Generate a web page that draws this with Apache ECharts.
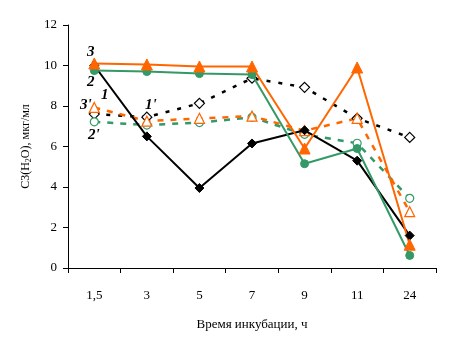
<!DOCTYPE html>
<html><head><meta charset="utf-8">
<script src="https://cdn.jsdelivr.net/npm/echarts@6/dist/echarts.min.js"></script>
<style>html,body{margin:0;padding:0;background:#fff}#c{width:452px;height:350px}</style>
</head><body><div id="c"></div>
<script>
var categories = ['1,5','3','5','7','9','11','24'];
var s1  = [10.0, 6.5, 3.95, 6.15, 6.8, 5.3, 1.6];
var s2  = [9.75, 9.7, 9.6, 9.55, 5.15, 5.9, 0.62];
var s3  = [10.1, 10.05, 9.95, 9.95, 5.9, 9.9, 1.15];
var s1p = [7.6, 7.45, 8.13, 9.37, 8.92, 7.39, 6.45];
var s2p = [7.22, 7.06, 7.18, 7.44, 6.6, 6.16, 3.44];
var s3p = [7.93, 7.25, 7.39, 7.5, 6.78, 7.39, 2.78];
var yTicks = [0,2,4,6,8,10,12];

var F = '"Liberation Serif","Times New Roman",serif';
var BLACK = '#000000', GREEN = '#339966', ORANGE = '#FF6600';
var chart = echarts.init(document.getElementById('c'));

function solid(name, data, color, symbol, size){
  return {name:name,type:'line',data:data,symbol:symbol,symbolSize:size,showAllSymbol:true,
    lineStyle:{color:color,width:2,type:'solid'},itemStyle:{color:color,borderColor:color,borderWidth:1},
    z:3,animation:false};
}
function dashed(name, data, color, symbol, size, dash){
  return {name:name,type:'line',data:data,symbol:symbol,symbolSize:size,showAllSymbol:true,
    lineStyle:{color:color,width:2.5,type:dash},itemStyle:{color:'#fff',borderColor:color,borderWidth:1.2},
    z:2,animation:false};
}
function lab(t,x,y){
  return {type:'text',left:x,top:y,style:{text:t,font:'italic bold 15px '+F,fill:'#000'}};
}

chart.setOption({
  backgroundColor:'#fff',
  grid:{left:68,right:16,top:25,bottom:82},
  xAxis:{type:'category',data:categories,boundaryGap:true,
    axisLine:{lineStyle:{color:'#000',width:1}},
    axisTick:{show:true,alignWithLabel:false,length:5,lineStyle:{color:'#000'}},
    axisLabel:{color:'#000',fontFamily:F,fontSize:13,margin:21},
    name:'Время инкубации, ч',nameLocation:'middle',nameGap:50,
    nameTextStyle:{color:'#000',fontFamily:F,fontSize:13}},
  yAxis:{type:'value',min:0,max:12,interval:2,
    axisLine:{show:true,lineStyle:{color:'#000',width:1}},
    axisTick:{show:true,length:5,lineStyle:{color:'#000'}},
    splitLine:{show:false},
    axisLabel:{color:'#000',fontFamily:F,fontSize:13,margin:11,
      formatter:function(v){return yTicks.indexOf(v)>=0?String(v):'';}},
    name:'{a|C3(H}{s|2}{a|O), мкг/мл}',nameLocation:'middle',nameGap:34,nameRotate:90,
    nameTextStyle:{rich:{a:{color:'#000',fontFamily:F,fontSize:12},s:{color:'#000',fontFamily:F,fontSize:8,padding:[6,0,0,0]}}}},
  series:[
    dashed("1'", s1p, BLACK, 'diamond', 10, [4,8]),
    dashed("2'", s2p, GREEN, 'circle', 8, [6,7]),
    dashed("3'", s3p, ORANGE, 'triangle', 10, [6,7]),
    solid('1', s1, BLACK, 'diamond', 9),
    solid('2', s2, GREEN, 'circle', 8),
    solid('3', s3, ORANGE, 'triangle', 11)
  ],
  graphic:[
    lab('3',87,45), lab('2',87,75), lab('1',101,88),
    lab("3'",80,98), lab("1'",145,98), lab("2'",88,128)
  ]
});
</script></body></html>
